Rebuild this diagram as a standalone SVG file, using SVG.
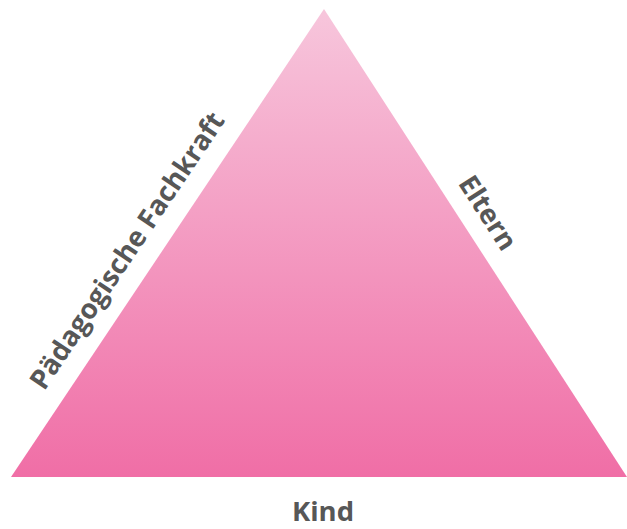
<svg xmlns="http://www.w3.org/2000/svg" width="627" height="529" viewBox="0 0 627 529">
<defs>
<linearGradient id="g" x1="0" y1="0" x2="0" y2="1">
<stop offset="0" stop-color="#f7c6dc"/>
<stop offset="1" stop-color="#f06ea6"/>
</linearGradient>
</defs>
<style>
.lbl{font-family:"Open Sans","Liberation Sans",sans-serif;font-weight:bold;font-size:27.5px;fill:#575757;text-anchor:middle}
</style>
<g id="triangle">
<polygon points="324,9 11,477 627,477" fill="url(#g)"/>
</g>
<g id="label-fachkraft">
<text class="lbl" transform="translate(135,256) rotate(-56.2)">Pädagogische Fachkraft</text>
</g>
<g id="label-eltern">
<text class="lbl" transform="translate(480,218) rotate(57.1)">Eltern</text>
</g>
<g id="label-kind">
<text class="lbl" x="323" y="521">Kind</text>
</g>
<g id="connectors"/>
</svg>
